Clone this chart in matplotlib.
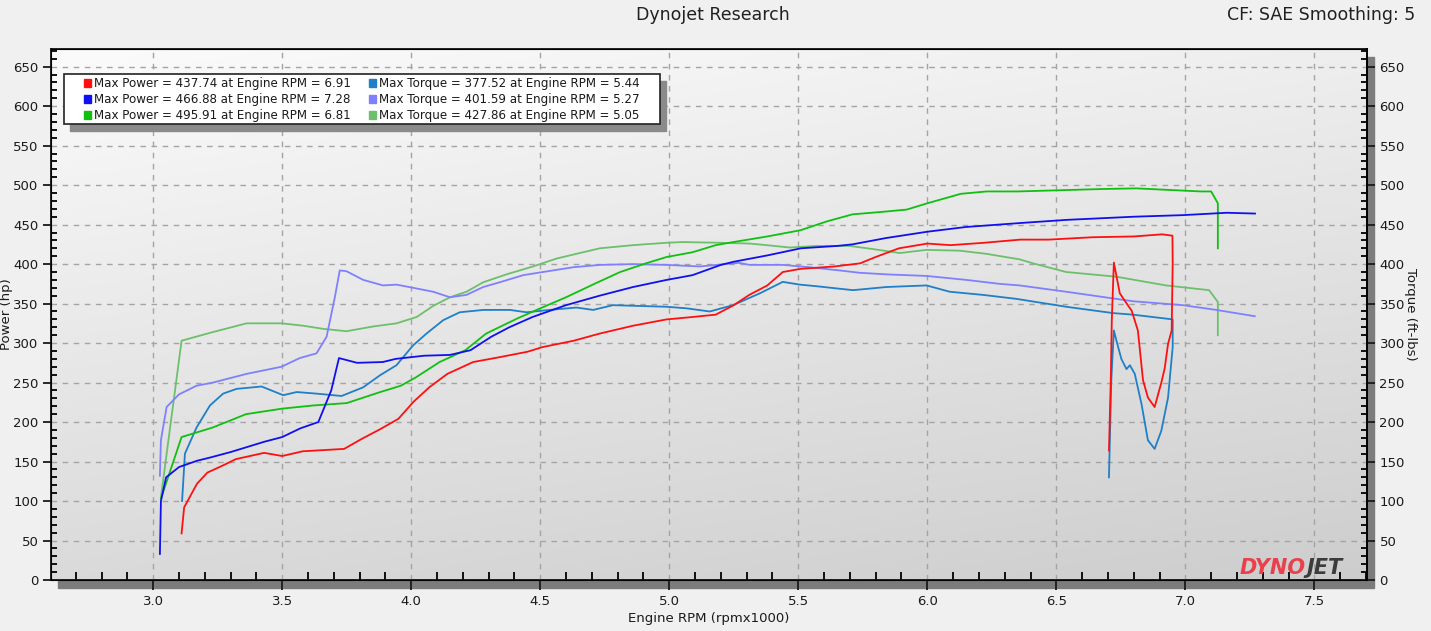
import numpy as np
import matplotlib
matplotlib.use("Agg")
import matplotlib.pyplot as plt
from matplotlib.patches import Rectangle
from matplotlib.ticker import MultipleLocator
from matplotlib import font_manager

# ---- data (rpm x1000, hp / ft-lbs) ----
red_rpm = [3.11, 3.12, 3.17, 3.21, 3.27, 3.32, 3.43, 3.50, 3.58, 3.74, 3.81, 3.88, 3.95, 4.01,
           4.07, 4.14, 4.24, 4.34, 4.45, 4.51, 4.63, 4.73, 4.86, 4.99, 5.09, 5.18, 5.25, 5.31,
           5.38, 5.44, 5.51, 5.64, 5.74, 5.80, 5.89, 6.00, 6.09, 6.22, 6.36, 6.47, 6.64, 6.80,
           6.91, 6.95, 6.951, 6.947, 6.933, 6.920, 6.907, 6.881, 6.855, 6.836, 6.816, 6.792,
           6.777, 6.746, 6.723, 6.715, 6.711, 6.704]
red_hp = [59, 92, 122, 136, 145, 153, 161, 157, 163, 166, 179, 191, 204, 226,
          244, 261, 276, 282, 289, 295, 303, 312, 322, 330, 333, 336, 348, 361,
          373, 390, 394, 397, 401, 409, 420, 426, 424, 427, 431, 431, 434, 435,
          437.7, 436, 401, 316, 299, 268, 250, 219, 231, 253, 316, 341,
          348, 363, 402, 329, 253, 164]

blue_rpm = [3.026, 3.03, 3.05, 3.10, 3.17, 3.22, 3.30, 3.36, 3.43, 3.50, 3.57, 3.64, 3.69, 3.72,
            3.79, 3.89, 3.94, 4.05, 4.15, 4.23, 4.31, 4.38, 4.47, 4.60, 4.73, 4.86, 4.99, 5.09,
            5.20, 5.25, 5.38, 5.51, 5.65, 5.71, 5.84, 6.00, 6.15, 6.36, 6.54, 6.80, 6.99, 7.16, 7.27]
blue_hp = [33, 100, 130, 143, 151, 155, 162, 168, 175, 181, 192, 200, 240, 281,
           275, 276, 280, 284, 285, 291, 308, 320, 333, 348, 360, 371, 380, 386,
           399, 403, 411, 420, 423, 425, 433, 441, 447, 452, 456, 460, 462, 465, 464]

green_rpm = [3.03, 3.11, 3.23, 3.36, 3.50, 3.62, 3.75, 3.88, 3.96, 4.02, 4.11, 4.21, 4.29, 4.41,
             4.50, 4.60, 4.71, 4.81, 4.91, 4.99, 5.09, 5.18, 5.25, 5.38, 5.51, 5.61, 5.71, 5.82,
             5.92, 6.00, 6.13, 6.23, 6.35, 6.67, 6.81, 7.06, 7.10, 7.126, 7.126]
green_hp = [103, 181, 193, 210, 217, 221, 224, 238, 246, 257, 276, 291, 312, 331,
            344, 358, 375, 390, 401, 409, 415, 424, 428, 435, 443, 454, 463, 466,
            469, 477, 489, 492, 492, 495, 495.9, 492, 492, 477, 420]

steel_rpm = [3.112, 3.123, 3.168, 3.220, 3.271, 3.323, 3.420, 3.504, 3.556, 3.633, 3.730, 3.814,
             3.878, 3.943, 4.007, 4.059, 4.124, 4.188, 4.280, 4.382, 4.447, 4.537, 4.640, 4.705,
             4.782, 4.886, 4.989, 5.067, 5.157, 5.247, 5.351, 5.44, 5.506, 5.570, 5.712, 5.842,
             5.997, 6.087, 6.216, 6.345, 6.538, 6.719, 6.796, 6.925, 6.951, 6.951, 6.933, 6.907,
             6.881, 6.855, 6.830, 6.804, 6.785, 6.772, 6.752, 6.733, 6.723, 6.713, 6.704]
steel_tq = [100, 160, 193, 221, 236, 242, 245, 234, 238, 236, 233, 244,
            259, 272, 297, 312, 329, 339, 342, 342, 339, 342, 345, 342,
            348, 347, 346, 344, 340, 348, 363, 377.5, 374, 372, 367, 371,
            373, 365, 361, 356, 346, 338, 336, 331, 330, 295, 231, 189,
            166, 177, 223, 261, 272, 267, 280, 303, 316, 253, 130]

purple_rpm = [3.026, 3.03, 3.052, 3.10, 3.168, 3.232, 3.362, 3.497, 3.568, 3.633, 3.672, 3.704,
              3.723, 3.749, 3.814, 3.891, 3.943, 4.007, 4.085, 4.150, 4.214, 4.279, 4.343, 4.434,
              4.511, 4.627, 4.731, 4.860, 4.989, 5.118, 5.27, 5.312, 5.441, 5.544, 5.660, 5.738,
              5.842, 5.997, 6.151, 6.280, 6.358, 6.538, 6.796, 6.990, 7.120, 7.269]
purple_tq = [132, 177, 219, 235, 246, 250, 261, 270, 281, 287, 308, 358,
             392, 391, 380, 373, 374, 370, 365, 358, 361, 371, 377, 386,
             390, 396, 399, 400, 399, 397, 401.6, 399, 399, 396, 392, 389,
             387, 385, 380, 375, 373, 365, 353, 348, 342, 334]

lgreen_rpm = [3.03, 3.11, 3.232, 3.362, 3.497, 3.581, 3.659, 3.749, 3.852, 3.943, 4.021, 4.085,
              4.150, 4.214, 4.279, 4.369, 4.472, 4.563, 4.640, 4.731, 4.860, 4.989, 5.05, 5.196,
              5.312, 5.377, 5.467, 5.570, 5.699, 5.790, 5.893, 5.997, 6.126, 6.229, 6.358, 6.409,
              6.538, 6.733, 6.925, 7.092, 7.126, 7.126]
lgreen_tq = [105, 303, 314, 325, 325, 322, 318, 315, 321, 325, 333, 347,
             358, 365, 377, 387, 397, 407, 413, 420, 424, 427, 427.9, 427,
             426, 424, 421, 423, 423, 419, 414, 418, 417, 413, 406, 401,
             390, 384, 373, 367, 352, 310]

max_power = [437.74, 466.88, 495.91]
max_power_rpm = [6.91, 7.28, 6.81]
max_torque = [377.52, 401.59, 427.86]
max_torque_rpm = [5.44, 5.27, 5.05]

power_colors = ['#ff1010', '#1010ee', '#10c010']
torque_colors = ['#1f7fc8', '#8080ff', '#6cc06c']

# narrow font for the header if one is installed
names = {f.name for f in font_manager.fontManager.ttflist}
if 'Liberation Sans Narrow' in names:
    head_font, head_size = 'Liberation Sans Narrow', 14
else:
    head_font, head_size = 'DejaVu Sans', 12.5

W, H = 1431, 631
fig = plt.figure(figsize=(W / 100, H / 100), dpi=100, facecolor='#f0f0f0')

# axes box in pixels (left, top, right, bottom)
L, T, R, B = 51, 48.5, 1367, 580
ax = fig.add_axes([L / W, 1 - B / H, (R - L) / W, (B - T) / H])

# drop shadow behind the plot area
fig.add_artist(Rectangle(((L + 7) / W, 1 - (B + 8) / H), (R - L) / W, (B - T) / H,
                         transform=fig.transFigure, color='#7c7c7c', zorder=-1))

# light gradient background, darker towards the bottom right
gx, gy = np.meshgrid(np.linspace(0, 1, 200), np.linspace(0, 1, 200))
shade = 0.985 - 0.13 * gy - 0.05 * gx
rgb = np.dstack([shade, shade, shade])
ax.imshow(rgb, extent=[0, 1, 0, 1], transform=ax.transAxes,
          aspect='auto', zorder=0, origin='upper')

xlo, xhi = 2.604, 7.704
ylo, yhi = 0, 673
ax.set_xlim(xlo, xhi)
ax.set_ylim(ylo, yhi)

ax.set_xticks(np.arange(3.0, 7.51, 0.5))
ax.set_xticklabels(['%.1f' % v for v in np.arange(3.0, 7.51, 0.5)])
ax.xaxis.set_minor_locator(MultipleLocator(0.1))
ax.set_yticks(np.arange(0, 651, 50))
ax.yaxis.set_minor_locator(MultipleLocator(10))
ax.tick_params(axis='x', which='major', direction='out', length=7, width=1.3, labelsize=9.5,
               colors='#1a1a1a', pad=4)
ax.tick_params(axis='x', which='minor', direction='in', length=6, width=1.3)
ax.tick_params(axis='y', which='major', direction='out', length=6, width=1.3, labelsize=9.5,
               colors='#1a1a1a', pad=3)
ax.tick_params(axis='y', which='minor', direction='in', length=4, width=1.3)

ax.grid(True, which='major', color='#a4a4a4', linestyle=(0, (4, 4)), linewidth=1)
for s in ax.spines.values():
    s.set_color('#111111')
    s.set_linewidth(1.3)

ax2 = ax.twinx()
ax2.set_ylim(ylo, yhi)
ax2.set_yticks(np.arange(0, 651, 50))
ax2.yaxis.set_minor_locator(MultipleLocator(10))
ax2.tick_params(axis='y', which='major', direction='out', length=6, width=1.3, labelsize=9.5,
                colors='#1a1a1a', pad=3)
ax2.tick_params(axis='y', which='minor', direction='in', length=4, width=1.3)
ax2.spines['right'].set_linewidth(1.3)

# curves
lw = 1.3
ax2.plot(lgreen_rpm, lgreen_tq, color=torque_colors[2], lw=lw, zorder=3)
ax2.plot(purple_rpm, purple_tq, color=torque_colors[1], lw=lw, zorder=3)
ax2.plot(steel_rpm, steel_tq, color=torque_colors[0], lw=lw, zorder=4)
ax2.plot(green_rpm, green_hp, color=power_colors[2], lw=lw, zorder=5)
ax2.plot(blue_rpm, blue_hp, color=power_colors[1], lw=lw, zorder=5)
ax2.plot(red_rpm, red_hp, color=power_colors[0], lw=lw, zorder=5)

ax.set_xlabel('Engine RPM (rpmx1000)', fontsize=9.5, labelpad=3, color='#1a1a1a')
ax.set_ylabel('Power (hp)', fontsize=9.5, color='#1a1a1a')
ax.yaxis.set_label_coords((13 - L) / (R - L), 0.5)
ax2.set_ylabel('Torque (ft-lbs)', fontsize=9.5, rotation=270, va='center', color='#1a1a1a')
ax2.yaxis.set_label_coords((1411 - L) / (R - L), 0.5)

fig.text(713 / W, 1 - 15 / H, 'Dynojet Research', ha='center', va='center',
         fontsize=head_size, family=head_font, color='#202020')
fig.text(1415 / W, 1 - 15 / H, 'CF: SAE Smoothing: 5', ha='right', va='center',
         fontsize=head_size, family=head_font, color='#202020')

# legend box
bx0, by0, bx1, by1 = 64, 74, 660, 124
fig.add_artist(Rectangle(((bx0 + 6) / W, 1 - (by1 + 7) / H), (bx1 - bx0) / W, (by1 - by0) / H,
                         transform=fig.transFigure, color='#8a8a8a', zorder=6))
fig.add_artist(Rectangle((bx0 / W, 1 - by1 / H), (bx1 - bx0) / W, (by1 - by0) / H,
                         transform=fig.transFigure, facecolor='white', edgecolor='#222222',
                         lw=1.2, zorder=7))
rows_y = [83, 99, 115]
for i in range(3):
    yy = 1 - rows_y[i] / H
    fig.add_artist(Rectangle((84 / W, yy - 3.5 / H), 7 / W, 7 / H, transform=fig.transFigure,
                             color=power_colors[i], zorder=8))
    fig.text(94 / W, yy, 'Max Power = %.2f at Engine RPM = %.2f' % (max_power[i], max_power_rpm[i]),
             ha='left', va='center', fontsize=8.6, color='#1a1a1a', zorder=8)
    fig.add_artist(Rectangle((369 / W, yy - 3.5 / H), 7 / W, 7 / H, transform=fig.transFigure,
                             color=torque_colors[i], zorder=8))
    fig.text(379 / W, yy, 'Max Torque = %.2f at Engine RPM = %.2f' % (max_torque[i], max_torque_rpm[i]),
             ha='left', va='center', fontsize=8.6, color='#1a1a1a', zorder=8)

# logo
fig.text(1306 / W, 1 - 568 / H, 'DYNO', ha='right', va='center', fontsize=15,
         fontweight='heavy', style='italic', color='#e8414c', zorder=8)
fig.text(1306 / W, 1 - 568 / H, 'JET', ha='left', va='center', fontsize=15,
         fontweight='heavy', style='italic', color='#3c3c3c', zorder=8)

fig.savefig('out.png', dpi=100, facecolor=fig.get_facecolor())
